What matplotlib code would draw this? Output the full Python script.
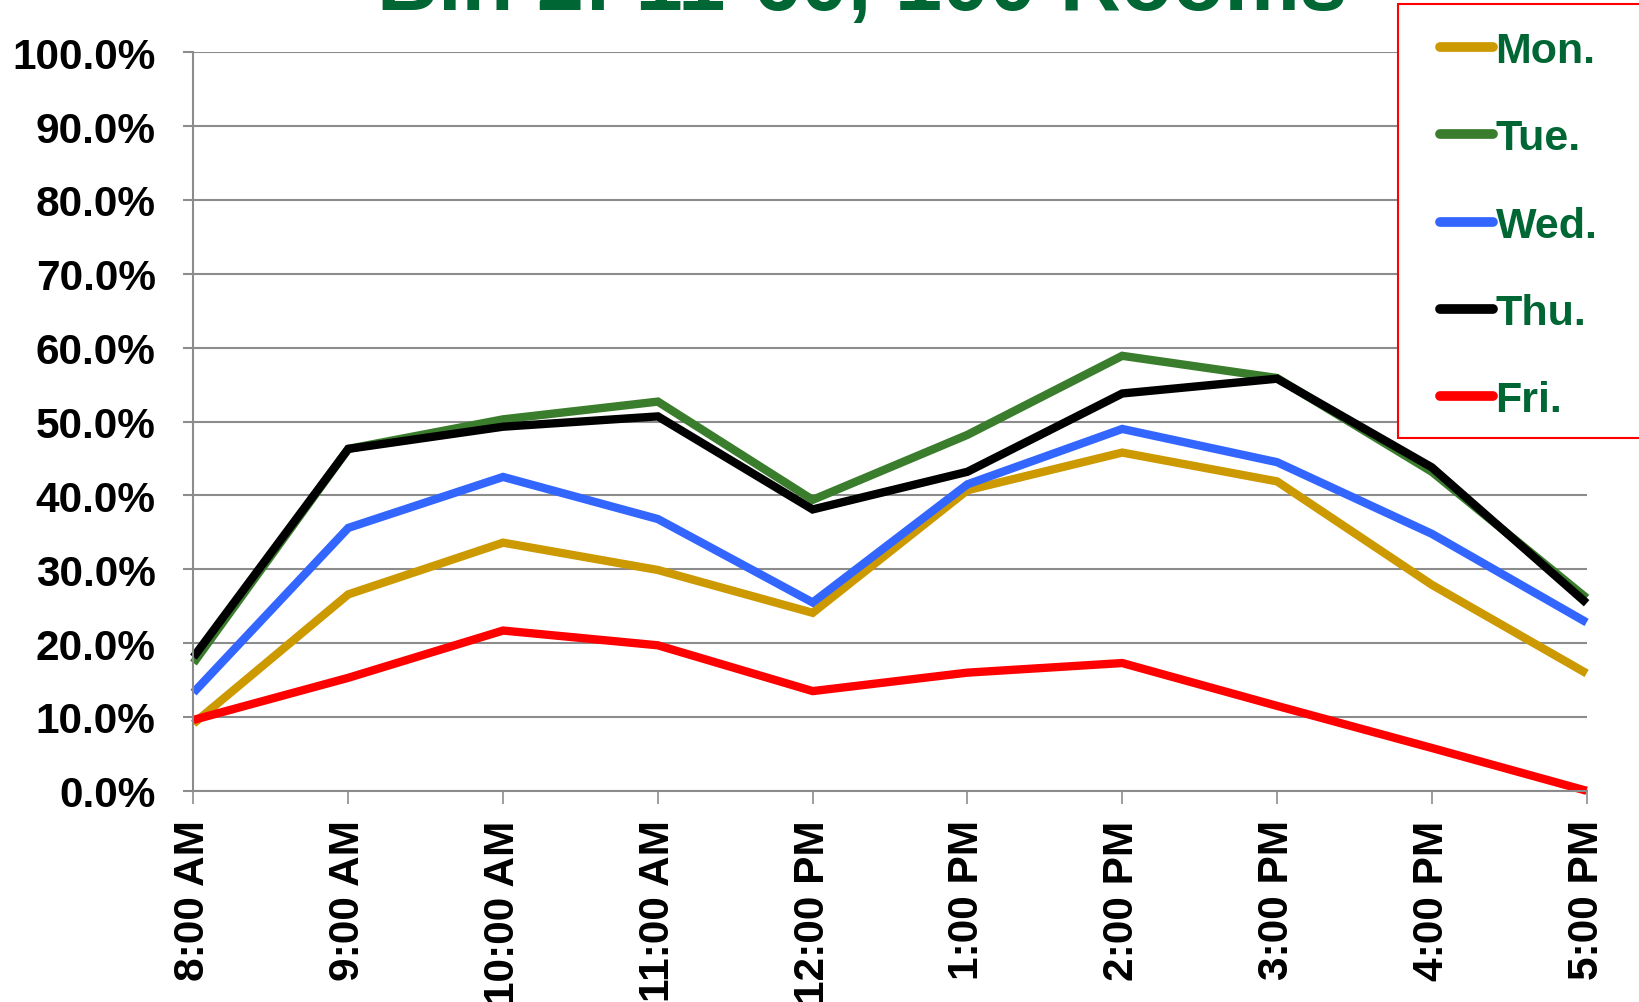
import matplotlib
matplotlib.use("Agg")
import matplotlib.pyplot as plt
from matplotlib.patches import Rectangle
import numpy as np

plt.rcParams['font.family'] = ['Liberation Sans', 'DejaVu Sans']
plt.rcParams['font.weight'] = 'bold'

title = "Bin 2: 11-60, 100 Rooms"
times = ["8:00 AM", "9:00 AM", "10:00 AM", "11:00 AM", "12:00 PM",
         "1:00 PM", "2:00 PM", "3:00 PM", "4:00 PM", "5:00 PM"]
mon = [9.1, 26.6, 33.6, 29.9, 24.1, 40.7, 45.8, 41.9, 27.9, 15.9]
tue = [17.3, 46.3, 50.3, 52.7, 39.4, 48.2, 58.9, 55.9, 43.2, 26.1]
wed = [13.3, 35.6, 42.5, 36.8, 25.5, 41.5, 49.0, 44.5, 34.8, 22.8]
thu = [18.1, 46.3, 49.3, 50.7, 38.1, 43.2, 53.8, 55.8, 43.8, 25.4]
fri = [9.6, 15.3, 21.7, 19.7, 13.5, 16.0, 17.3, 11.5, 5.8, 0.0]
series_names = ["Mon.", "Tue.", "Wed.", "Thu.", "Fri."]
series_vals = [mon, tue, wed, thu, fri]
colors = ["#CC9900", "#3A7D2C", "#3366FF", "#000000", "#FF0000"]

W, H = 1640, 1003
fig = plt.figure(figsize=(W / 100, H / 100), dpi=100)
ax = fig.add_axes([193.5 / W, 1 - 791.8 / H, (1586.6 - 193.5) / W, (791.8 - 53.3) / H])

x = np.arange(len(times))
lines = []
for name, vals, c in zip(series_names, series_vals, colors):
    ln, = ax.plot(x, np.array(vals) / 100.0, color=c, lw=6, label=name,
                  solid_joinstyle='miter', solid_capstyle='butt', clip_on=False)
    lines.append(ln)

ax.set_xlim(0, len(times) - 1)
ax.set_ylim(0, 1.0)
ax.set_yticks(np.arange(0, 1.01, 0.1))
ax.set_yticklabels([f"{v:.1f}%" for v in np.arange(0, 100.1, 10)])
ax.set_xticks(x)
ax.set_xticklabels(times, rotation=90, va='top', ha='center')

gray = "#8C8C8C"
ax.yaxis.grid(True, color=gray, lw=1.5)
ax.set_axisbelow(True)
for s in ['top', 'right']:
    ax.spines[s].set_visible(False)
for s in ['left', 'bottom']:
    ax.spines[s].set_color(gray)
    ax.spines[s].set_linewidth(1.5)
ax.tick_params(axis='y', length=7.2, width=1.5, color=gray, pad=20, labelsize=30.5)
ax.tick_params(axis='x', length=9.5, width=1.2, color=gray, pad=11, labelsize=30.5)
for t in ax.get_xticklabels() + ax.get_yticklabels():
    t.set_fontweight('bold')

# title (clipped at top of figure)
fig.text(862 / W, 1 - 10 / H, title, ha='center', va='baseline',
         fontsize=61, fontweight='bold', color='#006633')

# legend frame
fig.patches.append(Rectangle((1398 / W, 1 - 439 / H), (1645 - 1398) / W, (439 - 5) / H,
                             transform=fig.transFigure, fill=True, facecolor='white',
                             edgecolor='#FF0000', lw=1.5, zorder=5))
leg = fig.legend(handles=lines, labels=series_names, loc='upper left',
                 bbox_to_anchor=(1440 / W, 1 - 32 / H), frameon=False,
                 borderpad=0, borderaxespad=0, handlelength=1.24, handletextpad=0.05,
                 labelspacing=1.1, prop={'size': 31, 'weight': 'bold'})
leg.set_zorder(6)
for t in leg.get_texts():
    t.set_color('#006633')
for h in leg.legend_handles:
    h.set_solid_capstyle('round')
    h.set_linewidth(7)

fig.savefig("out.png", dpi=100)
